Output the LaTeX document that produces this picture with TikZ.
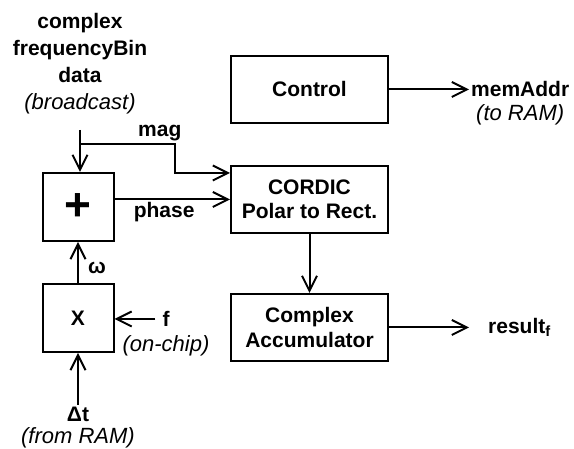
\documentclass[tikz,border=0pt]{standalone}
\usepackage{fontspec}
\setmainfont{Liberation Sans}
\usetikzlibrary{arrows.meta, positioning}

\begin{document}
\begin{tikzpicture}[
    x=1pt, y=1pt,
    every node/.style={font=\fontsize{21}{27}\selectfont\bfseries},
    box/.style={draw, line width=2pt, minimum width=157pt, minimum height=67pt,
                align=center, font=\fontsize{21}{24.5}\selectfont\bfseries},
    opbox/.style={draw, line width=2pt, minimum width=71pt, minimum height=68pt},
    lbl/.style={inner sep=2pt, align=center},
    note/.style={inner sep=1pt, font=\fontsize{22}{27}\selectfont\itshape},
    arr/.style={-{Straight Barb[length=15pt,width=15pt]}, line width=2pt}
  ]
    \useasboundingbox (0,0) rectangle (574,449);

    % blocks
    \node[opbox] (add) at (78,242) {\fontsize{46}{46}\selectfont +};
    \node[opbox, below=41pt of add] (mul) {X};
    \node[box] (cordic) at (309.5,249.5) {CORDIC\\Polar to Rect.};
    \node[box, above=41pt of cordic] (ctrl) {Control};
    \node[box, below=59pt of cordic] (accum) {Complex\\Accumulator};

    % inputs
    \coordinate (split) at (80,305);
    \coordinate (magbend) at (175,305);
    \node[lbl, above=28pt of split] (src) {complex\\frequencyBin\\data\\{\mdseries\itshape\fontsize{22}{27}\selectfont (broadcast)}};
    \node[lbl] (f) at (166,130) {f};
    \node[note, below=6pt of f] (fsrc) {(on-chip)};
    \node[lbl, below=52pt of mul] (dt) {Δt};
    \node[note, below=2pt of dt] (dtsrc) {(from RAM)};

    % outputs
    \node[lbl, right=80pt of ctrl] (mem) {memAddr};
    \node[note, below=4pt of mem] (memdst) {(to RAM)};
    \node[lbl, right=97pt of accum] (res) {result\textsubscript{f}};

    \draw[arr] ([yshift=-14pt]src.south) -- (src.south |- add.north);
    \draw[arr] (split) -- node[lbl, above, pos=0.84] {mag} (magbend) |- ([yshift=-8pt]cordic.north west);
    \draw[arr] (cordic.west -| add.east) -- node[lbl, below, pos=0.43] {phase} (cordic.west);
    \draw[arr] (mul) -- node[lbl, right=7pt, pos=0.36] {ω} (add);
    \draw[arr] ([xshift=-5pt]f.west) -- (f -| mul.east);
    \draw[arr] (dt) -- (mul);
    \draw[arr] (cordic) -- (accum);
    \draw[arr] (ctrl) -- (mem);
    \draw[arr, shorten >=17pt] (accum) -- (res);
  \end{tikzpicture}
\end{document}
